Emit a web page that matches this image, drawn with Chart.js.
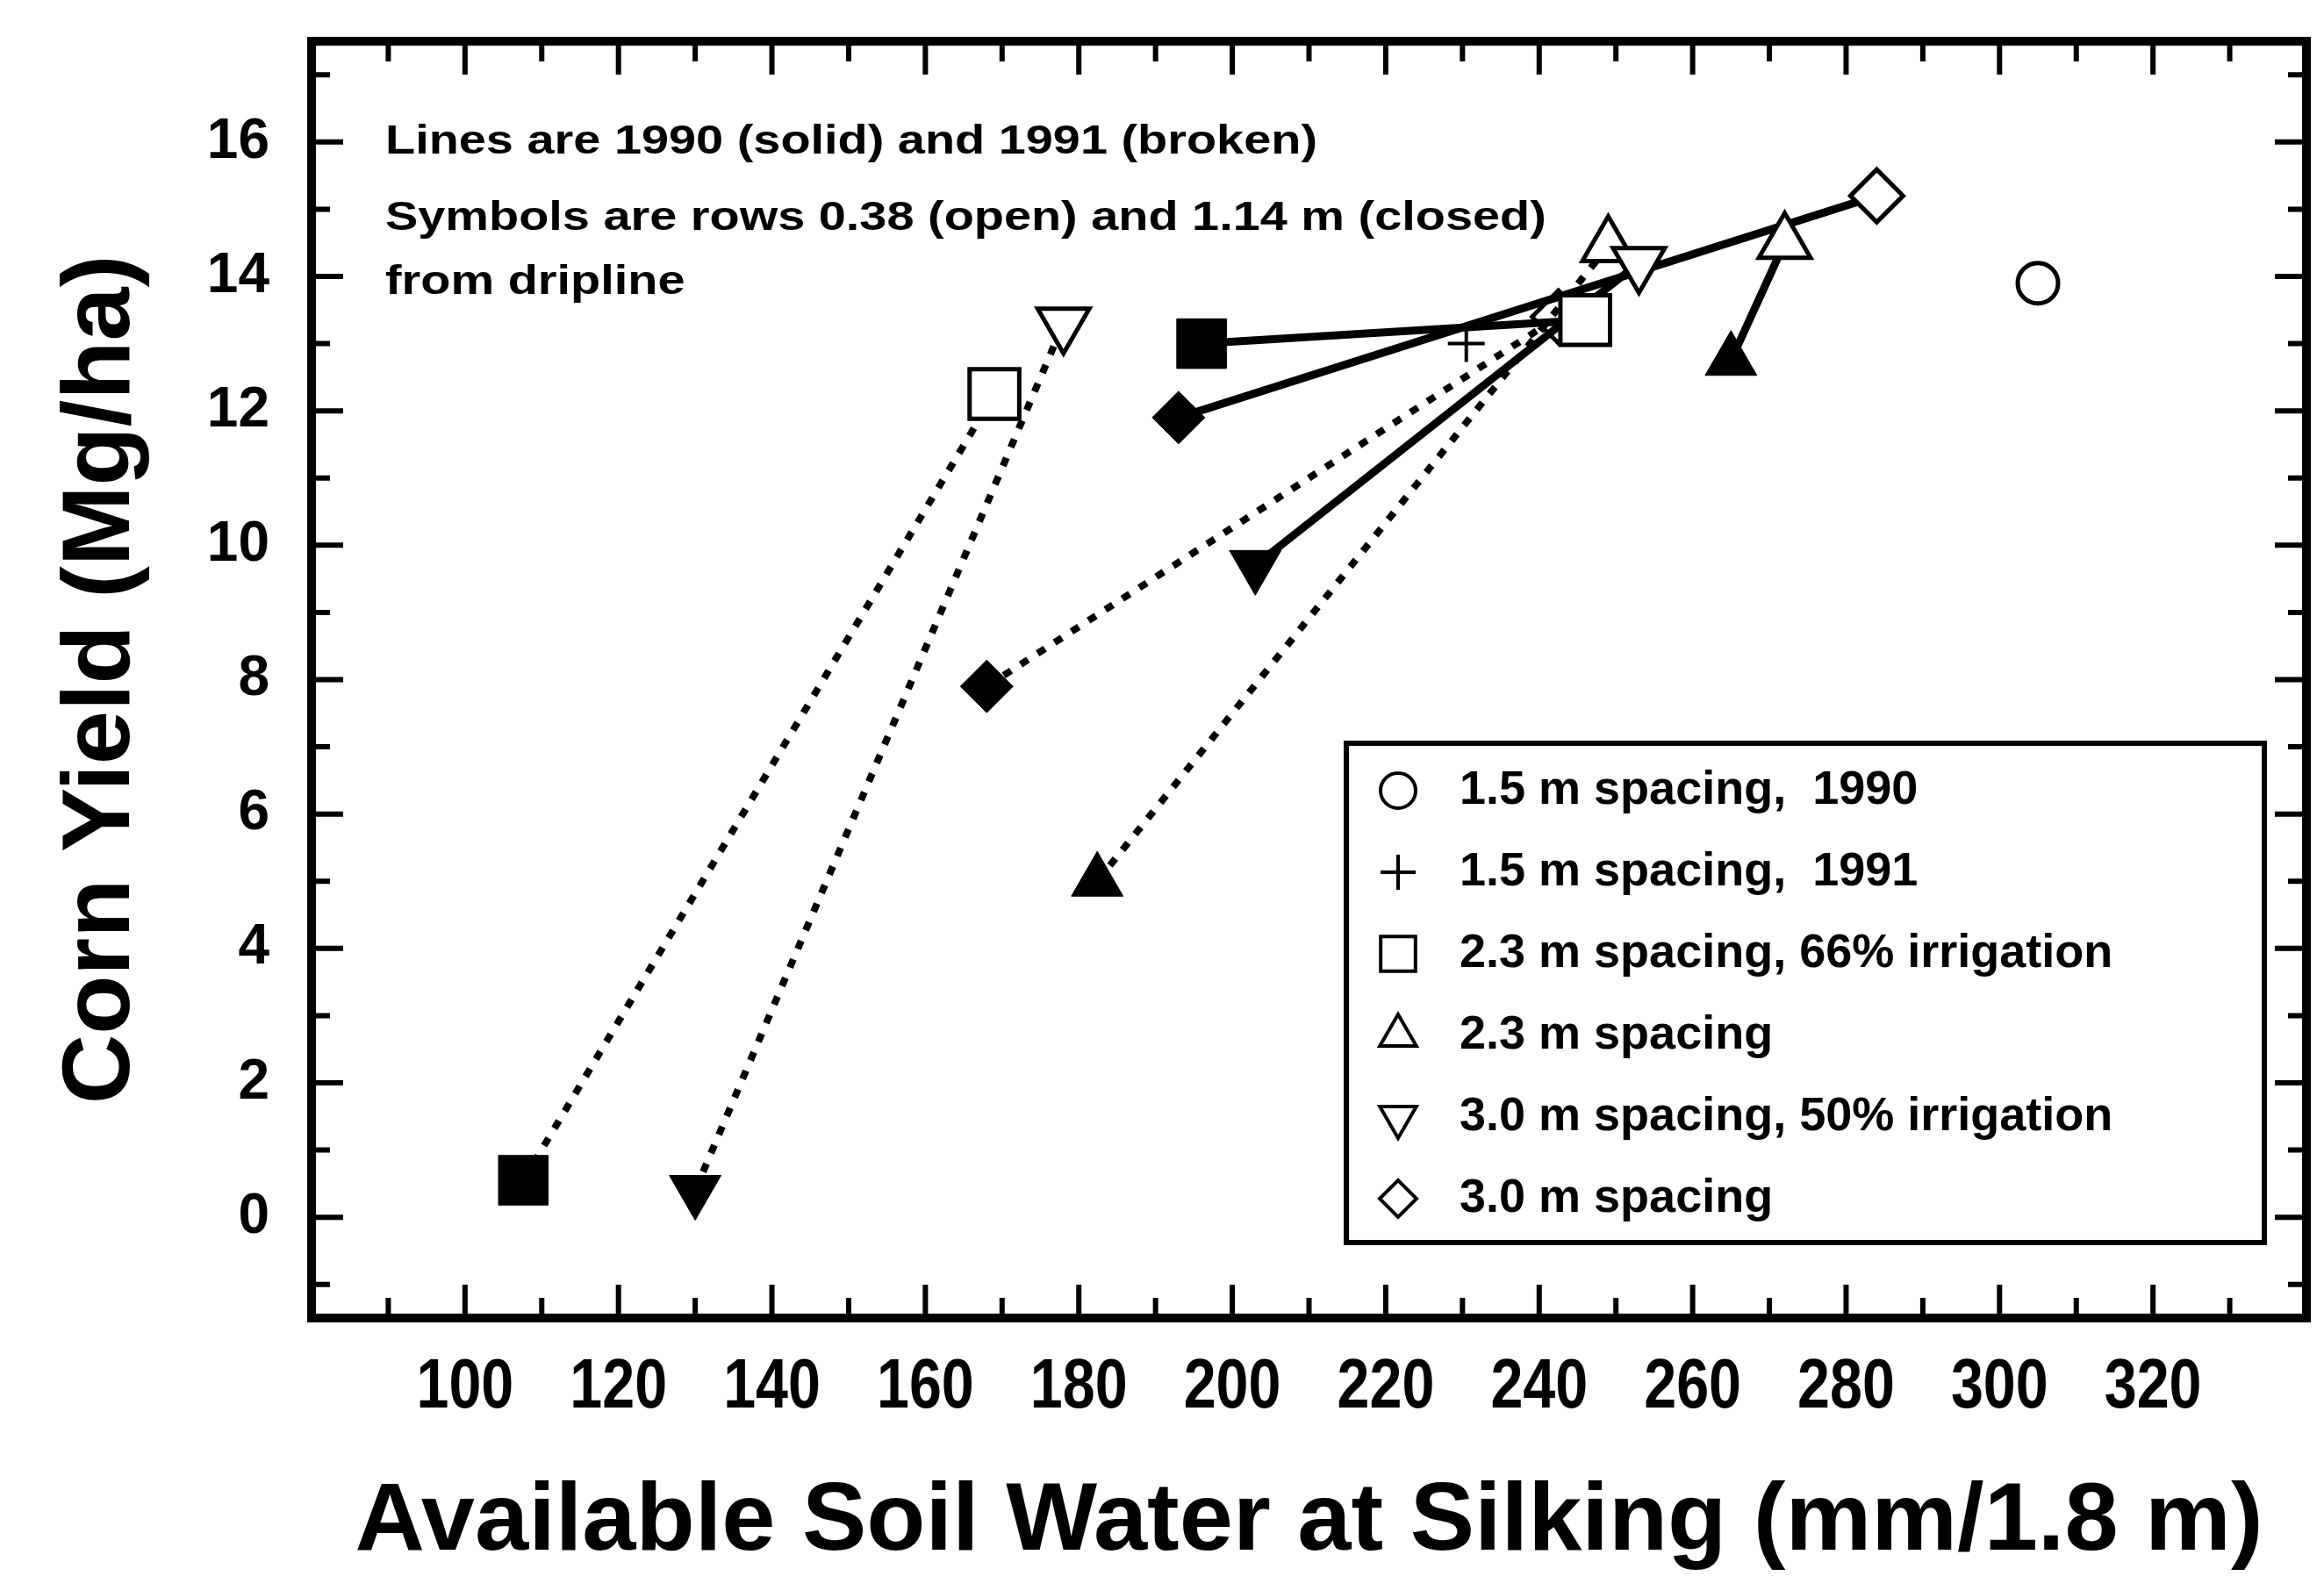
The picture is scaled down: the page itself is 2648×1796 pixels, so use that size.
<!DOCTYPE html>
<html>
<head>
<meta charset="utf-8">
<script src="https://cdn.jsdelivr.net/npm/chart.js@4.4.1/dist/chart.umd.min.js"></script>
<style>
html,body{margin:0;padding:0;background:#fff;overflow:hidden}
canvas{display:block}
</style>
</head>
<body>
<canvas id="c" width="2648" height="1796"></canvas>
<script>
// ---------------- data ----------------
const xTickLabels = [100, 120, 140, 160, 180, 200, 220, 240, 260, 280, 300, 320];
const yTickLabels = [0, 2, 4, 6, 8, 10, 12, 14, 16];

const treatments = ['2.3 m spacing, 66% irrigation', '3.0 m spacing, 50% irrigation', '2.3 m spacing', '3.0 m spacing'];
const treatmentSymbols = ['rect', 'triangle', 'triangle', 'rectRot'];
const treatmentRotation = [0, 180, 0, 0];

// each pair: [row 1.14 m (closed), row 0.38 m (open)]
const water1990 = [[196, 246], [203, 253], [265, 272], [193, 284]];
const yield1990 = [[13.0, 13.35], [9.7, 14.2], [12.75, 14.5], [11.9, 15.2]];
const water1991 = [[107.6, 169], [130, 178], [182.4, 249], [168, 242.5]];
const yield1991 = [[0.55, 12.25], [0.4, 13.3], [5.0, 14.45], [7.9, 13.4]];

// 1.5 m spacing (single points)
const water15_1990 = [305];
const yield15_1990 = [13.9];
const water15_1991 = [230.5];
const yield15_1991 = [13.0];

const legendLabels = ['1.5 m spacing,  1990', '1.5 m spacing,  1991', '2.3 m spacing, 66% irrigation', '2.3 m spacing', '3.0 m spacing, 50% irrigation', '3.0 m spacing'];
const legendSymbols = ['circle', 'cross', 'rect', 'triangle', 'triangle', 'rectRot'];
const legendRotation = [0, 0, 0, 0, 180, 0];

const noteLines = ['Lines are 1990 (solid) and 1991 (broken)', 'Symbols are rows 0.38 (open) and 1.14 m (closed)', 'from dripline'];

// ---------------- styling helpers ----------------
const SANS = "'Liberation Sans', Arial, Helvetica, sans-serif";
function markerRadius(style) {
  if (style === 'rect') return 40;
  if (style === 'triangle') return 34;
  if (style === 'rectRot') return 30;
  return 23;
}

function pairDataset(label, waters, yields, style, rot, dashed) {
  return {
    label: label,
    data: waters.map((w, i) => ({x: w, y: yields[i]})),
    showLine: true,
    borderColor: '#000',
    borderWidth: dashed ? 8 : 9,
    borderDash: dashed ? [10, 13] : [],
    pointStyle: style,
    pointRotation: rot,
    pointRadius: markerRadius(style),
    pointHoverRadius: markerRadius(style),
    pointBackgroundColor: ['#000', '#fff'],
    pointBorderColor: '#000',
    pointBorderWidth: [1, 5]
  };
}

const datasets = [];
treatments.forEach((t, i) => {
  datasets.push(pairDataset(t + ' 1990', water1990[i], yield1990[i], treatmentSymbols[i], treatmentRotation[i], false));
  datasets.push(pairDataset(t + ' 1991', water1991[i], yield1991[i], treatmentSymbols[i], treatmentRotation[i], true));
});
datasets.push({
  label: '1.5 m spacing, 1990',
  data: water15_1990.map((w, i) => ({x: w, y: yield15_1990[i]})),
  showLine: false, pointStyle: 'circle', pointRadius: 23, pointHoverRadius: 23,
  pointBackgroundColor: '#fff', pointBorderColor: '#000', pointBorderWidth: 5
});
datasets.push({
  label: '1.5 m spacing, 1991',
  data: water15_1991.map((w, i) => ({x: w, y: yield15_1991[i]})),
  showLine: false, pointStyle: 'cross', pointRadius: 21, pointHoverRadius: 21,
  pointBackgroundColor: '#fff', pointBorderColor: '#000', pointBorderWidth: 4
});

function noPadding(s) { s.paddingTop = 0; s.paddingBottom = 0; s.paddingLeft = 0; s.paddingRight = 0; }

// ---------------- custom drawing: frame, inward ticks, x labels, note, legend ----------------
const framePlugin = {
  id: 'frameAndLegend',
  afterDraw(chart) {
    const {ctx, chartArea: a, scales} = chart;
    const x = scales.x, y = scales.y;
    ctx.save();
    ctx.strokeStyle = '#000';
    ctx.fillStyle = '#000';

    // inward ticks on all four sides
    ctx.lineWidth = 6;
    ctx.lineCap = 'butt';
    ctx.beginPath();
    for (let v = Math.ceil(x.min / 10) * 10; v <= x.max; v += 10) {
      const px = x.getPixelForValue(v);
      if (px <= a.left + 4 || px >= a.right - 4) continue;
      const len = v % 20 === 0 ? 38 : 23;
      ctx.moveTo(px, a.bottom); ctx.lineTo(px, a.bottom - len);
      ctx.moveTo(px, a.top); ctx.lineTo(px, a.top + len);
    }
    for (let v = Math.ceil(y.min); v <= y.max; v += 1) {
      const py = y.getPixelForValue(v);
      if (py <= a.top + 4 || py >= a.bottom - 4) continue;
      const len = v % 2 === 0 ? 36 : 21;
      ctx.moveTo(a.left, py); ctx.lineTo(a.left + len, py);
      ctx.moveTo(a.right, py); ctx.lineTo(a.right - len, py);
    }
    ctx.stroke();

    // frame
    ctx.lineWidth = 10;
    ctx.strokeRect(a.left, a.top, a.right - a.left, a.bottom - a.top);

    // x tick labels (condensed bold)
    ctx.font = 'bold 80px ' + SANS;
    ctx.textAlign = 'center';
    ctx.textBaseline = 'alphabetic';
    xTickLabels.forEach(v => {
      ctx.save();
      ctx.translate(x.getPixelForValue(v), a.bottom + 102);
      ctx.scale(0.83, 1);
      ctx.fillText(String(v), 0, 0);
      ctx.restore();
    });

    // note text (top-left)
    ctx.font = 'bold 46px ' + SANS;
    ctx.textAlign = 'left';
    const w0 = ctx.measureText(noteLines[0]).width;
    const sx = 1062 / w0;
    const baselines = [128, 215, 288];
    noteLines.forEach((line, i) => {
      ctx.save();
      ctx.translate(a.left + 84, a.top + baselines[i]);
      ctx.scale(sx, 1);
      ctx.fillText(line, 0, 0);
      ctx.restore();
    });

    // legend box
    const bx = a.right - 48 - 1046, by = a.bottom - 86 - 569;
    ctx.fillStyle = '#fff';
    ctx.fillRect(bx, by, 1046, 569);
    ctx.lineWidth = 6;
    ctx.strokeRect(bx, by, 1046, 569);
    ctx.font = 'bold 54px ' + SANS;
    ctx.textBaseline = 'middle';
    const rad = {circle: 20, cross: 20, rect: 28, triangle: 24, rectRot: 21};
    legendLabels.forEach((lab, i) => {
      const cy = by + 54 + i * 93;
      const cx = bx + 59;
      ctx.fillStyle = '#fff';
      ctx.strokeStyle = '#000';
      ctx.lineWidth = 4;
      Chart.helpers.drawPoint(ctx, {pointStyle: legendSymbols[i], radius: rad[legendSymbols[i]], rotation: legendRotation[i], borderWidth: 4}, cx, cy);
      ctx.fillStyle = '#000';
      ctx.fillText(lab, bx + 129, cy);
    });
    ctx.restore();
  }
};

Chart.defaults.font.family = SANS;
Chart.defaults.color = '#000';

new Chart(document.getElementById('c'), {
  type: 'scatter',
  data: {datasets: datasets},
  options: {
    responsive: false,
    animation: false,
    devicePixelRatio: 1,
    events: [],
    layout: {autoPadding: false, padding: {top: 47, right: 20, left: 0, bottom: 0}},
    plugins: {legend: {display: false}, tooltip: {enabled: false}},
    scales: {
      x: {
        type: 'linear', min: 80, max: 340,
        afterBuildTicks: s => { s.ticks = xTickLabels.map(v => ({value: v})); },
        afterFit: s => { s.height = 294; noPadding(s); },
        grid: {display: false, drawTicks: false},
        border: {display: false},
        ticks: {display: false},
        title: {display: true, text: 'Available Soil Water at Silking (mm/1.8 m)', color: '#000',
          font: {family: SANS, weight: 'bold', size: 110, lineHeight: 1.1}, padding: {top: 0, bottom: 0}}
      },
      y: {
        type: 'linear', min: -1.5, max: 17.5,
        afterBuildTicks: s => { s.ticks = yTickLabels.map(v => ({value: v})); },
        afterFit: s => { s.width = 355; noPadding(s); },
        grid: {display: false, drawTicks: false},
        border: {display: false},
        ticks: {autoSkip: false, padding: 48, color: '#000',
          font: {family: SANS, weight: 'bold', size: 64}},
        title: {display: true, text: 'Corn Yield (Mg/ha)', color: '#000',
          font: {family: SANS, weight: 'bold', size: 110, lineHeight: 1.2}, padding: {top: 51, bottom: 0}}
      }
    }
  },
  plugins: [framePlugin]
});
</script>
</body>
</html>
